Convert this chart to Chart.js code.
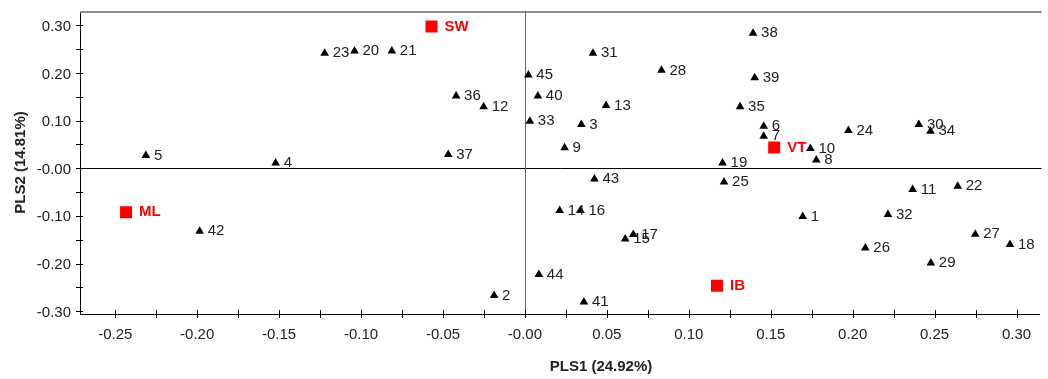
<!DOCTYPE html>
<html>
<head>
<meta charset="utf-8">
<script src="https://cdn.jsdelivr.net/npm/chart.js@4.4.1/dist/chart.umd.min.js"></script>
<style>
  body { margin: 0; background: #fff; }
</style>
</head>
<body>
<canvas id="myChart" width="1048" height="379"></canvas>
<script>
// sample scores
const sampleIds = ['1','2','3','4','5','6','7','8','9','10','11','12','13','14','15','16','17','18','19','20','21','22','23','24','25','26','27','28','29','30','31','32','33','34','35','36','37','38','39','40','41','42','43','44','45'];
const pls1 = [0.1695, -0.0188, 0.0344, -0.1521, -0.2313, 0.1457, 0.1457, 0.1778, 0.0242, 0.1742,
              0.2366, -0.0252, 0.0495, 0.0212, 0.0612, 0.0339, 0.0661, 0.2960, 0.1206, -0.1040,
              -0.0812, 0.2641, -0.1222, 0.1974, 0.1215, 0.2077, 0.2748, 0.0833, 0.2477, 0.2404,
              0.0415, 0.2215, 0.0030, 0.2475, 0.1313, -0.0420, -0.0468, 0.1392, 0.1402, 0.0079,
              0.0360, -0.1985, 0.0424, 0.0085, 0.0021];
const pls2 = [-0.1014, -0.2673, 0.0919, 0.0112, 0.0268, 0.0883, 0.0673, 0.0175, 0.0428, 0.0415,
              -0.0446, 0.1289, 0.1318, -0.0888, -0.1484, -0.0888, -0.1392, -0.1602, 0.0112, 0.2459,
              0.2459, -0.0377, 0.2411, 0.0793, -0.0287, -0.1673, -0.1386, 0.2054, -0.1988, 0.0919,
              0.2411, -0.0972, 0.0988, 0.0778, 0.1289, 0.1514, 0.0289, 0.2831, 0.1898, 0.1514,
              -0.2808, -0.1322, -0.0224, -0.2232, 0.1955];

// group scores
const groupNames = ['SW', 'VT', 'ML', 'IB'];
const groupPls1 = [-0.0570, 0.1521, -0.2434, 0.1172];
const groupPls2 = [0.2975, 0.0433, -0.0924, -0.2466];

// axes
const xTicks = [-0.25, -0.20, -0.15, -0.10, -0.05, 0, 0.05, 0.10, 0.15, 0.20, 0.25, 0.30];
const xMinor = [-0.225, -0.175, -0.125, -0.075, -0.025, 0.025, 0.075, 0.125, 0.175, 0.225, 0.275];
const yTicks = [-0.30, -0.20, -0.10, 0, 0.10, 0.20, 0.30];
const yMinor = [-0.25, -0.15, -0.05, 0.05, 0.15, 0.25];

const fmt = v => Math.abs(v) < 1e-9 ? '-0.00' : v.toFixed(2);
const FONT = 'Liberation Sans, Arial, sans-serif';

const framePlugin = {
  id: 'frame',
  beforeDatasetsDraw(chart) {
    const {ctx, chartArea: a, scales: {x, y}} = chart;
    ctx.save();
    // top frame
    ctx.lineWidth = 2;
    ctx.strokeStyle = '#8c8c8c';
    ctx.beginPath();
    ctx.moveTo(a.left, a.top + 1);
    ctx.lineTo(a.right + 2, a.top + 1);
    ctx.stroke();
    // zero lines
    ctx.lineWidth = 1;
    const x0 = Math.round(x.getPixelForValue(0)) + 0.5;
    const y0 = Math.round(y.getPixelForValue(0)) + 0.5;
    ctx.strokeStyle = '#000';
    ctx.beginPath();
    ctx.moveTo(a.left, y0);
    ctx.lineTo(a.right + 2, y0);
    ctx.stroke();
    ctx.strokeStyle = '#666';
    ctx.beginPath();
    ctx.moveTo(x0, a.top);
    ctx.lineTo(x0, a.bottom);
    ctx.stroke();
    ctx.restore();
  },
  afterDraw(chart) {
    const {ctx, chartArea: a, scales: {x, y}} = chart;
    ctx.save();
    ctx.strokeStyle = '#000';
    ctx.lineWidth = 1;
    ctx.beginPath();
    xTicks.concat(xMinor).forEach(v => {
      const px = Math.round(x.getPixelForValue(v)) + 0.5;
      ctx.moveTo(px, a.bottom - 4);
      ctx.lineTo(px, a.bottom + 4);
    });
    yTicks.concat(yMinor).forEach(v => {
      const py = Math.round(y.getPixelForValue(v)) + 0.5;
      ctx.moveTo(a.left - 4, py);
      ctx.lineTo(a.left + 3, py);
    });
    ctx.stroke();
    // x axis title
    ctx.fillStyle = '#222';
    ctx.font = 'bold 15px ' + FONT;
    ctx.textAlign = 'center';
    ctx.textBaseline = 'middle';
    ctx.fillText('PLS1 (24.92%)', 601, 367);
    ctx.restore();
  }
};

const labelPlugin = {
  id: 'pointLabels',
  afterDatasetsDraw(chart) {
    const ctx = chart.ctx;
    ctx.save();
    ctx.textAlign = 'left';
    ctx.textBaseline = 'middle';
    chart.getDatasetMeta(0).data.forEach((pt, i) => {
      ctx.font = '15px ' + FONT;
      ctx.fillStyle = '#222';
      ctx.fillText(sampleIds[i], pt.x + 8, pt.y);
    });
    chart.getDatasetMeta(1).data.forEach((pt, i) => {
      ctx.font = 'bold 15px ' + FONT;
      ctx.fillStyle = '#ff0000';
      ctx.fillText(groupNames[i], pt.x + 13, pt.y);
    });
    ctx.restore();
  }
};

const data = {
  datasets: [
    {
      label: 'samples',
      data: pls1.map((v, i) => ({x: v, y: pls2[i]})),
      pointStyle: 'triangle',
      pointRadius: 5,
      backgroundColor: '#000',
      borderColor: '#000',
      borderWidth: 0,
    },
    {
      label: 'groups',
      data: groupPls1.map((v, i) => ({x: v, y: groupPls2[i]})),
      pointStyle: 'rect',
      pointRadius: 8.5,
      backgroundColor: '#ff0000',
      borderColor: '#ff0000',
      borderWidth: 0,
    }
  ]
};

const config = {
  type: 'scatter',
  data: data,
  options: {
    responsive: false,
    animation: false,
    layout: { padding: { top: 11, right: 2 } },
    plugins: {
      legend: { display: false },
      tooltip: { enabled: false }
    },
    scales: {
      x: {
        type: 'linear',
        min: -0.2715,
        max: 0.314,
        afterBuildTicks: s => { s.ticks = xTicks.map(v => ({value: v})); },
        afterFit: s => { s.height = 65; s.paddingLeft = 0; s.paddingRight = 0; },
        grid: { display: false, drawTicks: false },
        border: { display: true, color: '#000', width: 1 },
        ticks: {
          padding: 12,
          color: '#222',
          font: { family: FONT, size: 15 },
          maxRotation: 0,
          callback: v => fmt(v)
        }
      },
      y: {
        type: 'linear',
        min: -0.306,
        max: 0.330,
        afterBuildTicks: s => { s.ticks = yTicks.map(v => ({value: v})); },
        afterFit: s => { s.width = 80; s.paddingTop = 0; s.paddingBottom = 0; },
        grid: { display: false, drawTicks: false },
        border: { display: true, color: '#000', width: 1 },
        ticks: {
          padding: 9,
          labelOffset: 1.5,
          color: '#222',
          font: { family: FONT, size: 15 },
          callback: v => fmt(v)
        },
        title: {
          display: true,
          text: 'PLS2 (14.81%)',
          color: '#222',
          font: { family: FONT, size: 15, weight: 'bold' },
          padding: { top: 12, bottom: 0 }
        }
      }
    }
  },
  plugins: [framePlugin, labelPlugin]
};

let ctx = document.getElementById('myChart').getContext('2d');
let chart = new Chart(ctx, config);
</script>
</body>
</html>
